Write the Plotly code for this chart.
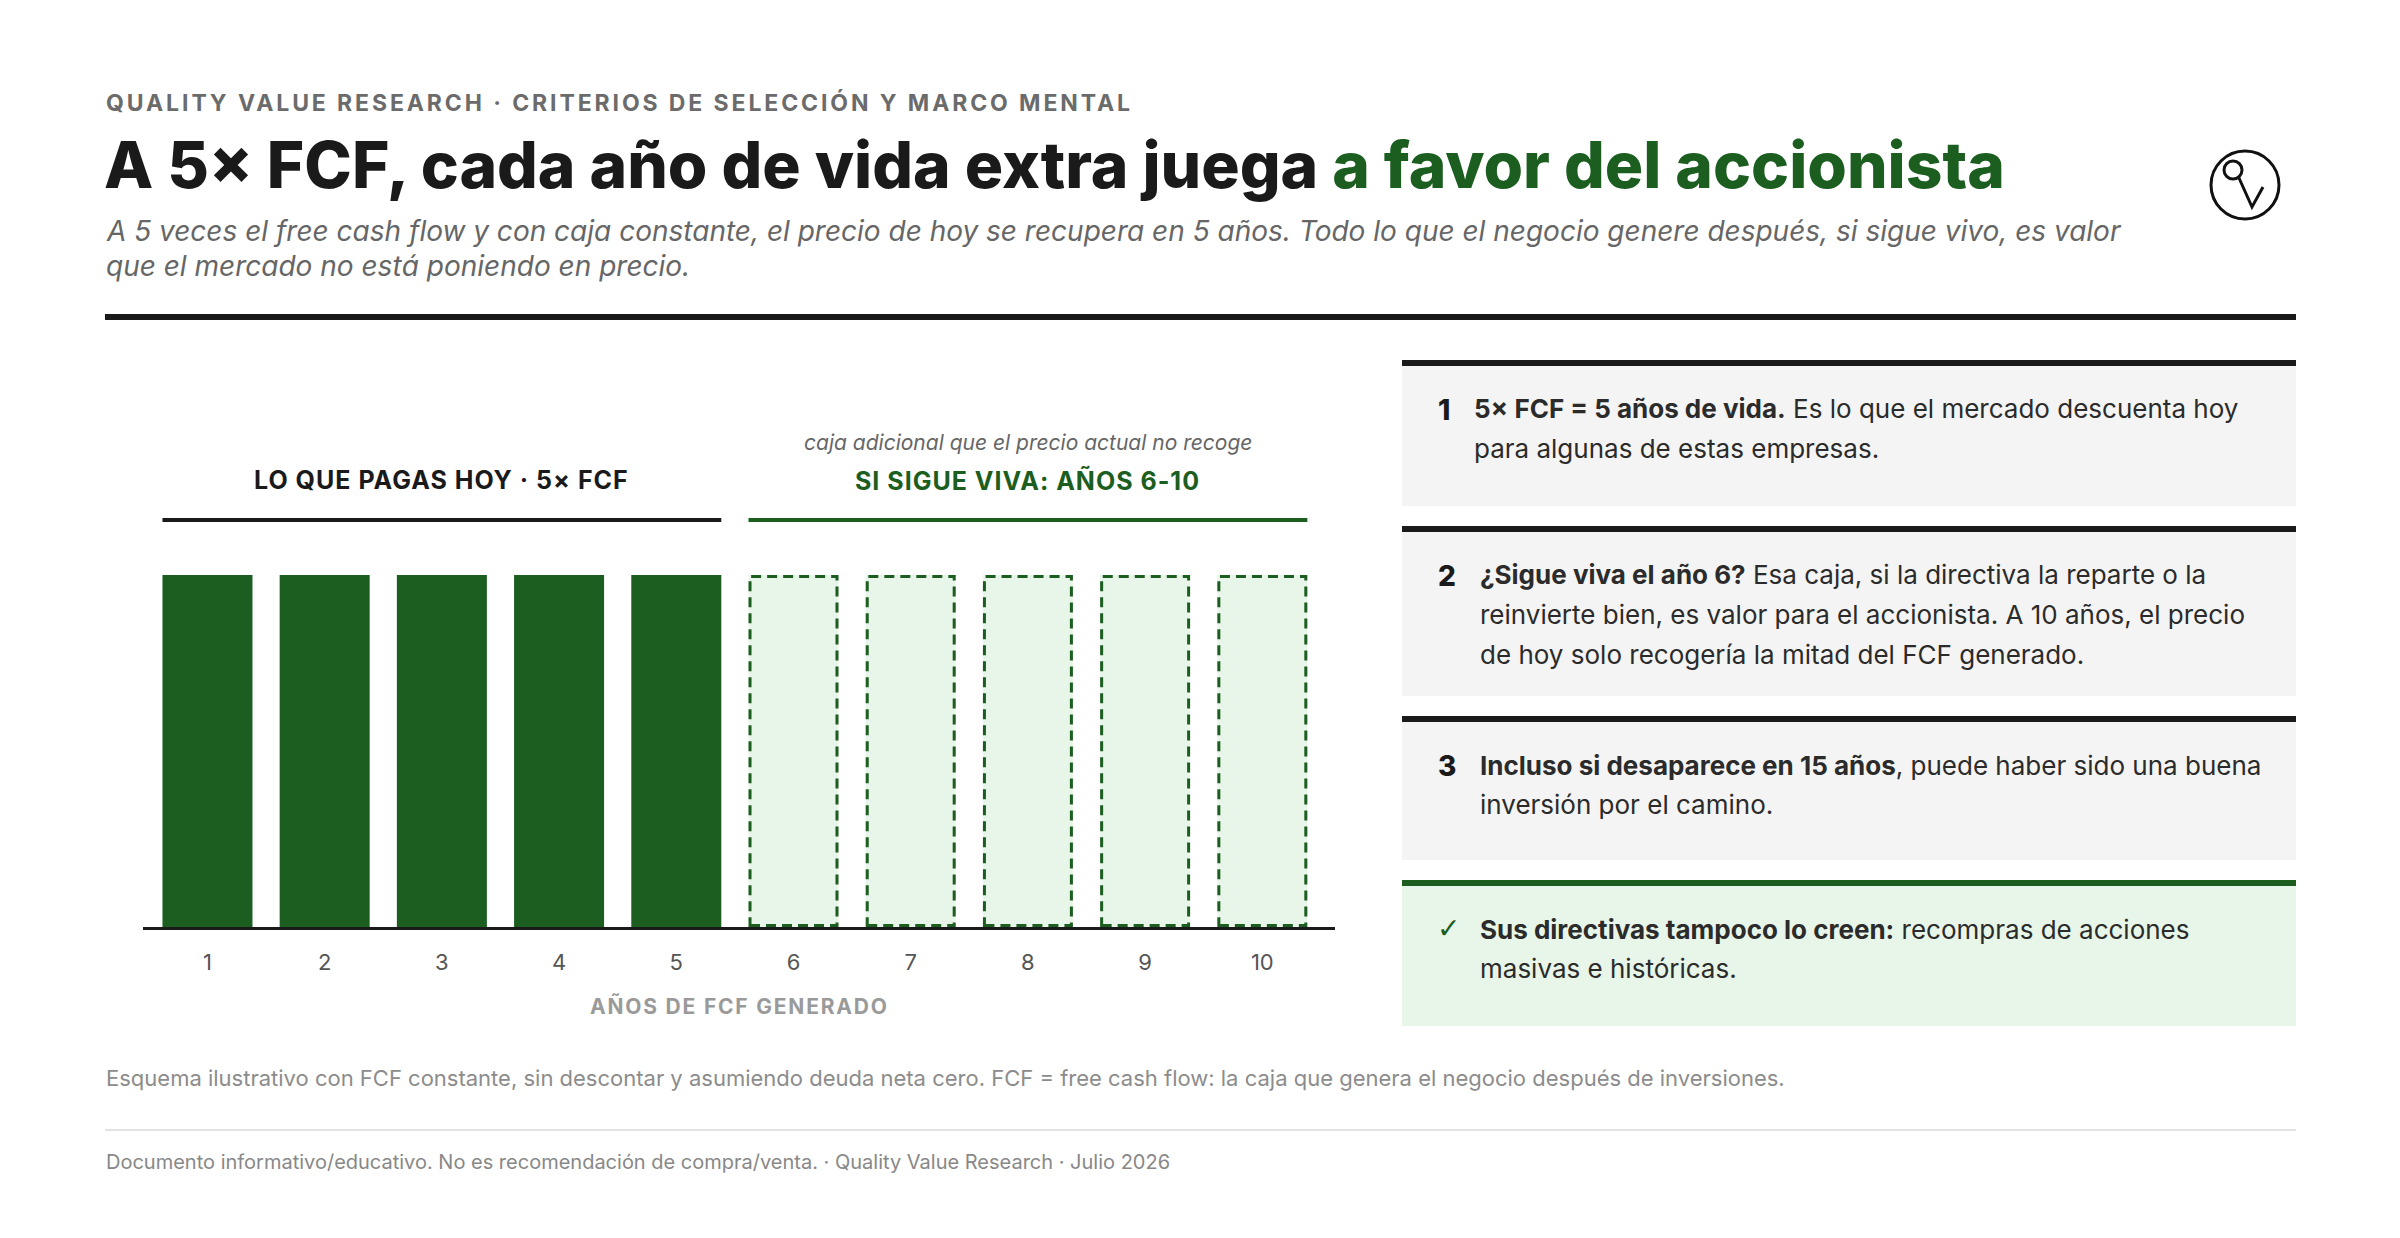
import plotly.graph_objects as go

W, H = 2400, 1238
GREEN = "#1b5e20"
LIGHT = "#e8f5e9"
DARK = "#1a1a1a"
FONT = "Inter"

# ---------------- data ----------------
years = [1, 2, 3, 4, 5, 6, 7, 8, 9, 10]
tick_labels = ["1", "2", "3", "4", "5", "6", "7", "8", "9", "10"]
fcf = [1, 1, 1, 1, 1, 1, 1, 1, 1, 1]          # constant FCF per year
paid_years, paid_fcf = years[:5], fcf[:5]      # what the price pays today (5x FCF)
extra_years, extra_fcf = years[5:], fcf[5:]    # if it survives: years 6-10

kicker = "QUALITY VALUE RESEARCH · CRITERIOS DE SELECCIÓN Y MARCO MENTAL"
title_dark = "A 5× FCF, cada año de vida extra juega "
title_green = "a favor del accionista"
subtitle_lines = [
    "A 5 veces el free cash flow y con caja constante, el precio de hoy se recupera en 5 años. Todo lo que el negocio genere después, si sigue vivo, es valor",
    "que el mercado no está poniendo en precio.",
]
group_paid = "LO QUE PAGAS HOY · 5× FCF"
group_extra = "SI SIGUE VIVA: AÑOS 6-10"
group_extra_note = "caja adicional que el precio actual no recoge"
axis_title = "AÑOS DE FCF GENERADO"

cards = [
    ("1", ["<b>5× FCF = 5 años de vida.</b> Es lo que el mercado descuenta hoy",
           "para algunas de estas empresas."]),
    ("2", ["<b>¿Sigue viva el año 6?</b> Esa caja, si la directiva la reparte o la",
           "reinvierte bien, es valor para el accionista. A 10 años, el precio",
           "de hoy solo recogería la mitad del FCF generado."]),
    ("3", ["<b>Incluso si desaparece en 15 años</b>, puede haber sido una buena",
           "inversión por el camino."]),
    ("✓", ["<b>Sus directivas tampoco lo creen:</b> recompras de acciones",
           "masivas e históricas."]),
]
footnote = "Esquema ilustrativo con FCF constante, sin descontar y asumiendo deuda neta cero. FCF = free cash flow: la caja que genera el negocio después de inversiones."
footer = "Documento informativo/educativo. No es recomendación de compra/venta. · Quality Value Research · Julio 2026"

BAR_W = 0.768


def X(px):
    return px / W


def Y(py):
    return 1 - py / H


fig = go.Figure()
fig.add_trace(go.Bar(x=paid_years, y=paid_fcf, width=BAR_W,
                     marker=dict(color=GREEN, line=dict(width=0)), hoverinfo="skip"))
fig.add_trace(go.Bar(x=extra_years, y=extra_fcf, width=BAR_W,
                     marker=dict(color=LIGHT, line=dict(width=0)), hoverinfo="skip"))

# dashed outlines of the "extra" bars, in data coordinates
inset = 0.013
for xv, yv in zip(extra_years, extra_fcf):
    fig.add_shape(type="rect", xref="x", yref="y",
                  x0=xv - BAR_W / 2 + inset, x1=xv + BAR_W / 2 - inset,
                  y0=0.004, y1=yv - 0.004,
                  line=dict(color=GREEN, width=3, dash="10px,6px"),
                  fillcolor="rgba(0,0,0,0)", layer="above")


def txt(px, py, text, size, color, weight=400, xanchor="left", italic=False, yanchor="middle", family=FONT):
    fig.add_annotation(x=X(px), y=Y(py), xref="paper", yref="paper", text=text,
                       showarrow=False, xanchor=xanchor, yanchor=yanchor,
                       align=xanchor if xanchor != "center" else "center",
                       borderpad=0,
                       font=dict(family=family, size=size, color=color, weight=weight,
                                 style="italic" if italic else "normal"))


def hline(x0, x1, py, color, width, xref="paper"):
    fig.add_shape(type="line", xref=xref, yref="paper", x0=x0, x1=x1, y0=Y(py), y1=Y(py),
                  line=dict(color=color, width=width))


def rect(px0, py0, px1, py1, color):
    fig.add_shape(type="rect", xref="paper", yref="paper", x0=X(px0), x1=X(px1),
                  y0=Y(py1), y1=Y(py0), line=dict(width=0), fillcolor=color, layer="below")


# ---------------- header ----------------
txt(105, 103, f"<span style='letter-spacing:2.9px'>{kicker}</span>", 23, "#6b6b6b", weight=700)
txt(103, 165, f"{title_dark}<span style='color:{GREEN}'>{title_green}</span>", 64, DARK, weight=800)
txt(105, 231, subtitle_lines[0], 28, "#666666", italic=True)
txt(105, 266, subtitle_lines[1], 28, "#666666", italic=True)
hline(X(105), X(2296), 317, DARK, 6)

# logo
fig.add_shape(type="circle", xref="paper", yref="paper", x0=X(2211), x1=X(2279), y0=Y(219), y1=Y(151),
              line=dict(color="#111111", width=3))
fig.add_shape(type="circle", xref="paper", yref="paper", x0=X(2224), x1=X(2242), y0=Y(179), y1=Y(161),
              line=dict(color="#111111", width=3))
fig.add_shape(type="path", xref="paper", yref="paper",
              path=f"M {X(2239)} {Y(178)} L {X(2252)} {Y(207)} L {X(2263)} {Y(187)}",
              line=dict(color="#111111", width=3))

# ---------------- chart group labels ----------------
paid_mid = (paid_years[0] + paid_years[-1]) / 2
extra_mid = (extra_years[0] + extra_years[-1]) / 2
fig.add_annotation(x=paid_mid, xref="x", y=Y(480), yref="paper",
                   text=f"<span style='letter-spacing:1px'>{group_paid}</span>",
                   showarrow=False, xanchor="center", yanchor="middle",
                   font=dict(family=FONT, size=25, color=DARK, weight=700))
fig.add_annotation(x=extra_mid, xref="x", y=Y(480), yref="paper",
                   text=f"<span style='letter-spacing:1px'>{group_extra}</span>",
                   showarrow=False, xanchor="center", yanchor="middle",
                   font=dict(family=FONT, size=25, color=GREEN, weight=700))
fig.add_annotation(x=extra_mid, xref="x", y=Y(443), yref="paper", text=group_extra_note,
                   showarrow=False, xanchor="center", yanchor="middle",
                   font=dict(family=FONT, size=21, color="#666666", style="italic"))
hline(paid_years[0] - BAR_W / 2, paid_years[-1] + BAR_W / 2, 520, DARK, 4, xref="x")
hline(extra_years[0] - BAR_W / 2, extra_years[-1] + BAR_W / 2, 520, GREEN, 4, xref="x")

txt(739, 1006, f"<span style='letter-spacing:1.8px'>{axis_title}</span>", 21, "#9a9a9a",
    weight=700, xanchor="center")

# ---------------- right cards ----------------
card_boxes = [(360, 506), (526, 696), (716, 860), (880, 1026)]
CX0, CX1 = 1402, 2296
for i, ((num, lines), (top, bot)) in enumerate(zip(cards, card_boxes)):
    last = i == len(cards) - 1
    rect(CX0, top, CX1, top + 6, GREEN if last else DARK)
    rect(CX0, top + 6, CX1, bot, LIGHT if last else "#f4f4f4")
    if last:
        txt(1436, top + 48, num, 28, GREEN, weight=700, family="DejaVu Sans")
    else:
        txt(1437, top + 50, num, 28, DARK, weight=800)
    tx = 1473 if num == "1" else 1479
    for j, line in enumerate(lines):
        txt(tx, top + 49 + 39.5 * j, line, 26, "#2b2b2b")

# ---------------- footer ----------------
txt(105, 1078, footnote, 22, "#8c8c8c")
hline(X(105), X(2296), 1130, "#e2e2e2", 2)
txt(105, 1162, footer, 20, "#888888")

fig.update_layout(
    width=W, height=H, margin=dict(l=0, r=0, t=0, b=0),
    paper_bgcolor="white", plot_bgcolor="white",
    showlegend=False, barmode="overlay",
    xaxis=dict(domain=[X(143), X(1335)], range=[0.45, 10.62],
               tickmode="array", tickvals=years, ticktext=tick_labels,
               tickfont=dict(family=FONT, size=22, color="#555555"),
               showline=True, linecolor=DARK, linewidth=3,
               showgrid=False, zeroline=False, ticks="", ticklabelstandoff=14,
               fixedrange=True),
    yaxis=dict(domain=[Y(927), Y(575)], range=[0, 1], visible=False, fixedrange=True),
)

fig.write_html("out.html", config={"displayModeBar": False},
               post_script="document.body.style.margin='0';")
